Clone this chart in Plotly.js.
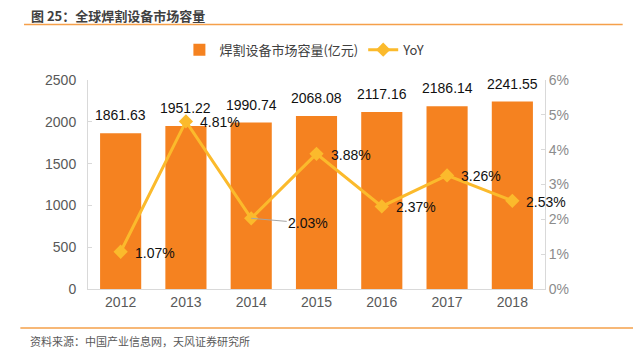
<!DOCTYPE html>
<html><head><meta charset="utf-8">
<script src="https://cdn.plot.ly/plotly-3.0.1.min.js"></script>
<style>html,body{margin:0;padding:0;background:#fff;}#chart{width:633px;height:356px;}</style>
</head><body><div id="chart"></div>
<script>
const years = ['2012','2013','2014','2015','2016','2017','2018'];
const capacity = [1861.63, 1951.22, 1990.74, 2068.08, 2117.16, 2186.14, 2241.55];
const yoy = [1.07, 4.81, 2.03, 3.88, 2.37, 3.26, 2.53];
const barName = '焊割设备市场容量(亿元)';
const lineName = 'YoY';
const chartTitle = '图 25：全球焊割设备市场容量';
const sourceText = '资料来源：中国产业信息网，天风证券研究所';

const FONT = 'Liberation Sans, Arial, Noto Sans CJK SC, sans-serif';
const CJK = 'Noto Sans CJK SC, sans-serif';
const barColor = '#F58220';
const lineColor = '#FBBA2C';
const xs = years.map((_, i) => i);

const traces = [
  {type:'bar', x:xs, y:capacity, name:barName, marker:{color:barColor}, yaxis:'y', hoverinfo:'none'},
  {type:'scatter', mode:'lines+markers', x:xs, y:yoy, name:lineName, yaxis:'y2',
   line:{color:lineColor, width:3}, marker:{symbol:'diamond', size:11, color:lineColor}, hoverinfo:'none'}
];

const annotations = [];
xs.forEach((xv,i)=>{
  annotations.push({x:xv, y:capacity[i], xref:'x', yref:'y', text:capacity[i].toFixed(2),
    showarrow:false, yanchor:'middle', yshift:18, font:{family:FONT, size:14, color:'#111'}});
  if (i === 2) {
    annotations.push({x:xv, y:yoy[i], xref:'x', yref:'y2', text:yoy[i].toFixed(2)+'%',
      showarrow:true, arrowhead:0, arrowwidth:1, arrowcolor:'#A6A6A6', ax:57, ay:5,
      font:{family:FONT, size:14, color:'#111'}});
  } else {
    annotations.push({x:xv, y:yoy[i], xref:'x', yref:'y2', text:yoy[i].toFixed(2)+'%',
      showarrow:false, xanchor:'left', xshift:12, yshift:-1, font:{family:FONT, size:14, color:'#111'}});
  }
});
annotations.push({xref:'paper', yref:'paper', x:-0.13, y:1.31, xanchor:'left', yanchor:'middle',
  text:'<b>'+chartTitle+'</b>', showarrow:false, font:{family:CJK, size:13, color:'#404040'}});
annotations.push({xref:'paper', yref:'paper', x:-0.132, y:-0.25, xanchor:'left', yanchor:'middle',
  text:sourceText, showarrow:false, font:{family:CJK, size:11, color:'#595959'}});

const layout = {
  width:633, height:356,
  margin:{l:88, r:88, t:80, b:67},
  paper_bgcolor:'#fff', plot_bgcolor:'#fff',
  bargap:0.37,
  showlegend:true,
  legend:{orientation:'h', x:0.2, xanchor:'left', y:1.145, yanchor:'middle',
    font:{family:CJK, size:13, color:'#404040'}, traceorder:'normal'},
  xaxis:{range:[-0.5, years.length-0.5], tickvals:xs, ticktext:years, showline:true, linecolor:'#D9D9D9', linewidth:1, ticks:'',
    tickfont:{family:FONT, size:14, color:'#595959'}, showgrid:false, zeroline:false},
  yaxis:{range:[0,2500], dtick:500, showline:true, linecolor:'#D9D9D9', linewidth:1,
    ticks:'inside', ticklen:4, tickcolor:'#D9D9D9', showgrid:false, zeroline:false,
    tickfont:{family:FONT, size:14, color:'#595959'}, ticklabelstandoff:8},
  yaxis2:{range:[0,6], dtick:1, overlaying:'y', side:'right', showline:true, linecolor:'#D9D9D9',
    linewidth:1, ticks:'inside', ticklen:4, tickcolor:'#D9D9D9', showgrid:false, zeroline:false,
    ticksuffix:'%', tickfont:{family:FONT, size:14, color:'#8C8C8C'}},
  annotations:annotations,
  shapes:[
    {type:'line', xref:'paper', yref:'paper', x0:-0.14, x1:1.17, y0:1.265, y1:1.265, line:{color:'#F5A04A', width:1.5}},
    {type:'line', xref:'paper', yref:'paper', x0:-0.148, x1:1.2, y0:-0.187, y1:-0.187, line:{color:'#F5A04A', width:1.5}}
  ]
};
Plotly.newPlot('chart', traces, layout, {staticPlot:true, displayModeBar:false});
</script></body></html>
